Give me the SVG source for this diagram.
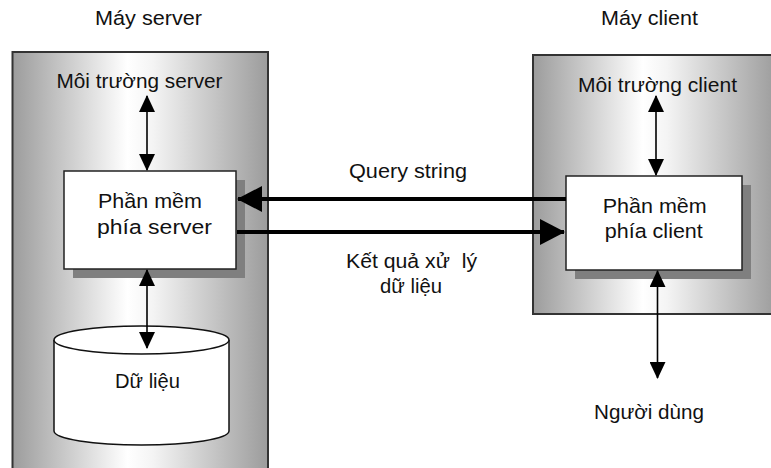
<svg xmlns="http://www.w3.org/2000/svg" width="771" height="468" viewBox="0 0 771 468">
  <style>
    text { font-family: "Liberation Sans", Arial, sans-serif; font-size: 20.5px; fill: #111; text-anchor: middle; }
    .panel { stroke: #333; stroke-width: 2; }
    .box { fill: #fff; stroke: #222; stroke-width: 1.5; }
    .shadow { fill: #7f7f7f; }
    .thin { stroke: #000; stroke-width: 1.6; fill: none; }
    .thick { stroke: #000; stroke-width: 4; fill: none; }
    .cyl { fill: #fff; stroke: #111; stroke-width: 1.5; }
  </style>
  <defs>
    <linearGradient id="metal" x1="0" y1="0" x2="1" y2="0">
      <stop offset="0" stop-color="#9c9c9c"/>
      <stop offset="0.45" stop-color="#ffffff"/>
      <stop offset="0.55" stop-color="#f4f4f4"/>
      <stop offset="1" stop-color="#9c9c9c"/>
    </linearGradient>
    <marker id="head" markerUnits="userSpaceOnUse" viewBox="0 0 17 16" markerWidth="17" markerHeight="16" refX="16" refY="8" orient="auto-start-reverse">
      <path d="M0,0 L17,8 L0,16 z" fill="#000"/>
    </marker>
    <marker id="bighead" markerUnits="userSpaceOnUse" viewBox="0 0 25 26" markerWidth="25" markerHeight="26" refX="24" refY="13" orient="auto-start-reverse">
      <path d="M0,0 L25,13 L0,26 z" fill="#000"/>
    </marker>
  </defs>

  <rect width="771" height="468" fill="#fff"/>

  <!-- server machine -->
  <g id="server-machine">
    <rect class="panel" x="12.5" y="52" width="255.5" height="430" fill="url(#metal)"/>
    <text x="148.5" y="25" textLength="107" lengthAdjust="spacingAndGlyphs">Máy server</text>
  </g>

  <!-- client machine -->
  <g id="client-machine">
    <rect class="panel" x="533" y="55" width="244" height="259" fill="url(#metal)"/>
    <text x="649.5" y="25" textLength="97" lengthAdjust="spacingAndGlyphs">Máy client</text>
  </g>

  <g id="server-env">
    <text x="139.5" y="88" textLength="166" lengthAdjust="spacingAndGlyphs">Môi trường server</text>
  </g>

  <g id="client-env">
    <text x="657.5" y="92" textLength="159" lengthAdjust="spacingAndGlyphs">Môi trường client</text>
  </g>

  <g id="server-software">
    <rect class="shadow" x="73" y="180" width="172" height="98"/>
    <rect class="box" x="64" y="171" width="172" height="98"/>
    <text x="150" y="208" textLength="104" lengthAdjust="spacingAndGlyphs">Phần mềm</text>
    <text x="154.5" y="234" textLength="115" lengthAdjust="spacingAndGlyphs">phía server</text>
  </g>

  <g id="client-software">
    <rect class="shadow" x="575" y="185" width="176" height="94"/>
    <rect class="box" x="566" y="176" width="176" height="94"/>
    <text x="654.7" y="212.5" textLength="104" lengthAdjust="spacingAndGlyphs">Phần mềm</text>
    <text x="653.8" y="238" textLength="98" lengthAdjust="spacingAndGlyphs">phía client</text>
  </g>

  <g id="database">
    <path class="cyl" d="M54,340 L54,431 A87.5,14 0 0 0 229,431 L229,340"/>
    <ellipse class="cyl" cx="141.5" cy="340" rx="87.5" ry="14"/>
    <text x="147.5" y="388" textLength="65" lengthAdjust="spacingAndGlyphs">Dữ liệu</text>
  </g>

  <g id="user">
    <text x="649" y="419" textLength="110" lengthAdjust="spacingAndGlyphs">Người dùng</text>
  </g>

  <!-- connectors -->
  <g id="connectors">
    <line class="thin" x1="147" y1="96" x2="147" y2="170" marker-start="url(#head)" marker-end="url(#head)"/>
    <line class="thin" x1="147" y1="270" x2="147" y2="348" marker-start="url(#head)" marker-end="url(#head)"/>
    <line class="thin" x1="656" y1="96" x2="656" y2="175" marker-start="url(#head)" marker-end="url(#head)"/>
    <line class="thin" x1="657.5" y1="271" x2="657.5" y2="378" marker-start="url(#head)" marker-end="url(#head)"/>
    <line class="thick" x1="566" y1="199" x2="238" y2="199" marker-end="url(#bighead)"/>
    <line class="thick" x1="237" y1="232" x2="564" y2="232" marker-end="url(#bighead)"/>
    <text x="408" y="178" textLength="118" lengthAdjust="spacingAndGlyphs">Query string</text>
    <text x="411.5" y="268" textLength="131" lengthAdjust="spacingAndGlyphs" style="white-space:pre">Kết quả xử  lý</text>
    <text x="411" y="293" textLength="62" lengthAdjust="spacingAndGlyphs">dữ liệu</text>
  </g>
</svg>
